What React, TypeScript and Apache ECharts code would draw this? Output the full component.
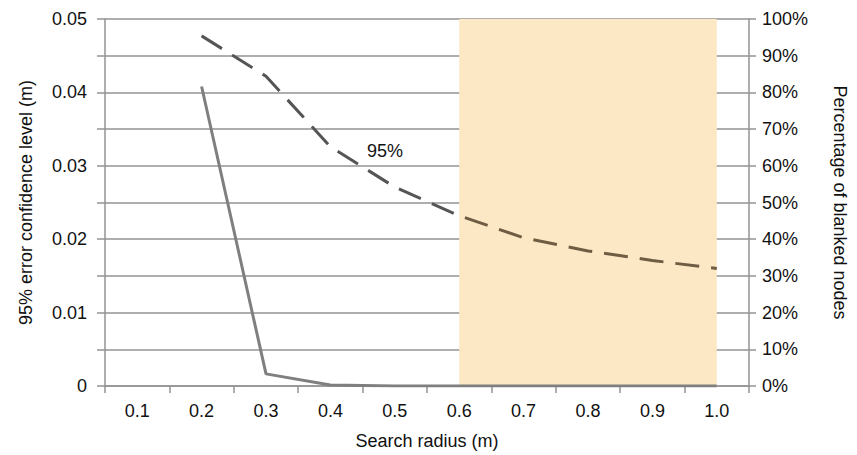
import React, { useEffect, useRef } from "react";
import * as echarts from "echarts";

const categories = ["0.1", "0.2", "0.3", "0.4", "0.5", "0.6", "0.7", "0.8", "0.9", "1.0"];
const errorConfidence = [null, 0.0477, 0.0422, 0.0326, 0.0271, 0.0232, 0.0202, 0.0184, 0.0171, 0.016];
const blankedPercent = [null, 81.6, 3.3, 0.3, 0, 0, 0, 0, 0, 0];
const leftTicks = { min: 0, max: 0.05, interval: 0.005 };
const rightTicks = { min: 0, max: 100, interval: 10 };
const shadedRange = ["0.6", "1.0"];
const curveLabel = "95%";

const FONT = "Liberation Sans, Arial, sans-serif";
const GRID_COLOR = "#939393";
const TEXT = "#111";
const DASH_COLOR = "#555555";
const DASH_SHADED = "#6e5d42";

export default function App() {
  const ref = useRef<HTMLDivElement>(null);
  useEffect(() => {
    if (!ref.current) return;
    const chart = echarts.init(ref.current, null, { renderer: "svg" });
    chart.setOption({
      animation: false,
      textStyle: { fontFamily: FONT },
      grid: { left: 105, right: 108, top: 19, bottom: 66 },
      xAxis: {
        type: "category",
        data: categories,
        boundaryGap: true,
        name: "Search radius (m)",
        nameLocation: "middle",
        nameGap: 46,
        nameTextStyle: { fontSize: 18, color: TEXT, fontFamily: FONT },
        axisLine: { lineStyle: { color: GRID_COLOR, width: 1.5 } },
        axisTick: { show: true, length: 7, lineStyle: { color: GRID_COLOR, width: 1.5 } },
        axisLabel: { fontSize: 18, color: TEXT, margin: 16, fontFamily: FONT },
        splitLine: { show: false },
      },
      yAxis: [
        {
          type: "value",
          min: leftTicks.min,
          max: leftTicks.max,
          interval: leftTicks.interval,
          name: "95% error confidence level (m)",
          nameLocation: "middle",
          nameGap: 70,
          nameTextStyle: { fontSize: 18, color: TEXT, fontFamily: FONT },
          axisLine: { show: true, lineStyle: { color: GRID_COLOR, width: 1.5 } },
          axisTick: { show: true, length: 8, lineStyle: { color: GRID_COLOR, width: 1.5 } },
          axisLabel: {
            fontSize: 18,
            color: TEXT,
            margin: 18,
            fontFamily: FONT,
            formatter: (v: number) => {
              const k = Math.round(v * 1000);
              if (k % 10 !== 0) return "";
              return k === 0 ? "0" : v.toFixed(2);
            },
          },
          splitLine: { show: false },
        },
        {
          type: "value",
          min: rightTicks.min,
          max: rightTicks.max,
          interval: rightTicks.interval,
          position: "right",
          name: "Percentage of blanked nodes",
          nameLocation: "middle",
          nameGap: 82,
          nameRotate: -90,
          nameTextStyle: { fontSize: 18, color: TEXT, fontFamily: FONT },
          axisLine: { show: true, lineStyle: { color: GRID_COLOR, width: 1.5 } },
          axisTick: { show: true, length: 7, lineStyle: { color: GRID_COLOR, width: 1.5 } },
          axisLabel: { fontSize: 18, color: TEXT, margin: 13, fontFamily: FONT, formatter: "{value}%" },
          splitLine: { show: true, lineStyle: { color: GRID_COLOR, width: 1.5 } },
        },
      ],
      series: [
        {
          type: "line",
          yAxisIndex: 1,
          data: blankedPercent,
          symbol: "none",
          z: 2,
          lineStyle: { color: "#7f7f7f", width: 3 },
          markArea: {
            silent: true,
            itemStyle: { color: "#fde8c5" },
            data: [[{ xAxis: shadedRange[0] }, { xAxis: shadedRange[1] }]],
          },
        },
        {
          type: "line",
          yAxisIndex: 0,
          data: errorConfidence,
          symbol: "none",
          z: 3,
          lineStyle: { color: DASH_COLOR, width: 3, type: [24, 12] },
        },
      ],
      graphic: [
        {
          type: "text",
          left: 367,
          top: 142,
          style: { text: curveLabel, fontSize: 18, fill: TEXT, fontFamily: FONT },
        },
      ],
    });
    const shadeX = chart.convertToPixel({ xAxisIndex: 0 }, shadedRange[0]) as number;
    const width = chart.getWidth();
    if (typeof shadeX === "number" && isFinite(shadeX)) {
      const t = shadeX / width;
      chart.setOption({
        series: [
          {},
          {
            lineStyle: {
              color: new echarts.graphic.LinearGradient(
                0,
                0,
                width,
                0,
                [
                  { offset: 0, color: DASH_COLOR },
                  { offset: t, color: DASH_COLOR },
                  { offset: t, color: DASH_SHADED },
                  { offset: 1, color: DASH_SHADED },
                ],
                true
              ),
            },
          },
        ],
      });
    }
    return () => chart.dispose();
  }, []);
  return <div ref={ref} style={{ width: 857, height: 455, position: "absolute", left: 0, top: 0 }} />;
}
